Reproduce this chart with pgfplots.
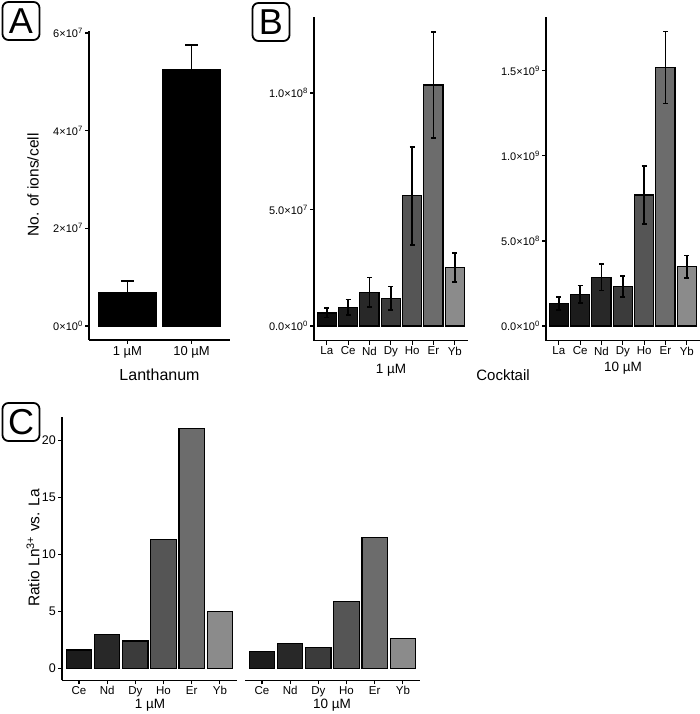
\documentclass[border=0pt]{standalone}
\usepackage{pgfplots}
\pgfplotsset{compat=1.18}
\usepackage{fontspec}
\setmainfont{Liberation Sans}
\definecolor{cLa}{HTML}{0F0F0F}
\definecolor{cCe}{HTML}{1C1C1C}
\definecolor{cNd}{HTML}{282828}
\definecolor{cDy}{HTML}{3B3B3B}
\definecolor{cHo}{HTML}{555555}
\definecolor{cEr}{HTML}{6C6C6C}
\definecolor{cYb}{HTML}{8B8B8B}
\newcommand{\fs}[1]{\fontsize{#1}{#1}\selectfont}
\pgfplotsset{
  gg/.style={scale only axis, anchor=south west,
    axis x line*=bottom, axis y line*=left,
    axis line style={line width=1.4pt, black},
    tick style={line width=1.2pt, black},
    major tick length=4pt, tick align=outside,
    scaled y ticks=false,
    xticklabel style={font=\fs{11.5}, inner sep=2pt},
    yticklabel style={font=\fs{11}, inner sep=2pt},
    clip=false},
}
% bar with error: colour, x, y, err
\newcommand{\gbar}[4]{\addplot[ybar, bar width=0.9, bar shift=0pt, fill=#1, draw=black, line width=1.2pt,
   error bars/.cd, y dir=both, y explicit,
   error bar style={line width=1.7pt, black},
   error mark options={rotate=90, line width=1.7pt, mark size=2.4pt, black}]
   coordinates {(#2,#3) +- (0,#4)};}
\newcommand{\cbar}[3]{\addplot[ybar, bar width=0.9, bar shift=0pt, fill=#1, draw=black, line width=1.2pt]
   coordinates {(#2,#3)};}
\begin{document}
\begin{tikzpicture}[x=1pt,y=1pt]
% ---------- Panel A ----------
\begin{axis}[gg, at={(89pt,374pt)}, width=141pt, height=309pt,
  xmin=0.4, xmax=2.6, ymin=-2.875e6, ymax=6.04e7,
  xtick={1,2}, xticklabels={1 µM,10 µM},
  xticklabel style={font=\fs{13}},
  ytick={0,2e7,4e7,6e7},
  yticklabels={0×10\textsuperscript{0},2×10\textsuperscript{7},4×10\textsuperscript{7},6×10\textsuperscript{7}}]
\addplot[ybar, bar width=0.9, bar shift=0pt, fill=black, draw=black, line width=0.5pt,
   error bars/.cd, y dir=both, y explicit,
   error bar style={line width=1.6pt, black},
   error mark options={rotate=90, line width=1.6pt, mark size=6.5pt, black}]
   coordinates {(1,7.0e6) +- (0,2.2e6)};
\addplot[ybar, bar width=0.9, bar shift=0pt, fill=black, draw=black, line width=0.5pt,
   error bars/.cd, y dir=both, y explicit,
   error bar style={line width=1.6pt, black},
   error mark options={rotate=90, line width=1.6pt, mark size=6.5pt, black}]
   coordinates {(2,5.26e7) +- (0,4.9e6)};
\end{axis}
\node[font=\fs{16}] at (159.5,339) {Lanthanum};
\node[font=\fs{15.5}, rotate=90] at (33,529) {No. of ions/cell};
% ---------- Panel B left ----------
\begin{axis}[gg, at={(314pt,373.3pt)}, width=153.6pt, height=323.7pt,
  xmin=-0.6, xmax=6.6, ymin=-6.3e6, ymax=1.326e8,
  xtick={0,...,6}, xticklabels={La,Ce,Nd,Dy,Ho,Er,Yb},
  ytick={0,5e7,1e8},
  yticklabels={0.0×10\textsuperscript{0},5.0×10\textsuperscript{7},1.0×10\textsuperscript{8}}]
\gbar{cLa}{0}{5.6e6}{2.0e6}
\gbar{cCe}{1}{8.0e6}{3.4e6}
\gbar{cNd}{2}{1.45e7}{6.3e6}
\gbar{cDy}{3}{1.19e7}{5.0e6}
\gbar{cHo}{4}{5.59e7}{2.1e7}
\gbar{cEr}{5}{1.034e8}{2.28e7}
\gbar{cYb}{6}{2.50e7}{6.2e6}
\end{axis}
\node[font=\fs{13.5}] at (391,344) {1 µM};
% ---------- Panel B right ----------
\begin{axis}[gg, at={(546pt,373.3pt)}, width=153.6pt, height=323.7pt,
  xmin=-0.6, xmax=6.6, ymin=-8.65e7, ymax=1.8165e9,
  xtick={0,...,6}, xticklabels={La,Ce,Nd,Dy,Ho,Er,Yb},
  ytick={0,5e8,1e9,1.5e9},
  yticklabels={0.0×10\textsuperscript{0},5.0×10\textsuperscript{8},1.0×10\textsuperscript{9},1.5×10\textsuperscript{9}}]
\gbar{cLa}{0}{1.33e8}{3.9e7}
\gbar{cCe}{1}{1.86e8}{5.2e7}
\gbar{cNd}{2}{2.86e8}{7.8e7}
\gbar{cDy}{3}{2.31e8}{6.1e7}
\gbar{cHo}{4}{7.70e8}{1.72e8}
\gbar{cEr}{5}{1.52e9}{2.12e8}
\gbar{cYb}{6}{3.49e8}{6.6e7}
\end{axis}
\node[font=\fs{13.5}] at (623,346) {10 µM};
\node[font=\fs{15}] at (503,339) {Cocktail};
% ---------- Panel C left ----------
\begin{axis}[gg, at={(62pt,33.7pt)}, width=174.8pt, height=263.4pt,
  xmin=-0.6, xmax=5.6, ymin=-1.05, ymax=22.05,
  xtick={0,...,5}, xticklabels={Ce,Nd,Dy,Ho,Er,Yb},
  ytick={0,5,10,15,20}, yticklabels={0,5,10,15,20},
  yticklabel style={font=\fs{12.5}}]
\cbar{cCe}{0}{1.6}
\cbar{cNd}{1}{2.95}
\cbar{cDy}{2}{2.4}
\cbar{cHo}{3}{11.3}
\cbar{cEr}{4}{21.0}
\cbar{cYb}{5}{5.0}
\end{axis}
% ---------- Panel C right ----------
\begin{axis}[gg, at={(245pt,33.7pt)}, width=174.8pt, height=263.4pt,
  xmin=-0.6, xmax=5.6, ymin=-1.05, ymax=22.05,
  axis y line=none,
  xtick={0,...,5}, xticklabels={Ce,Nd,Dy,Ho,Er,Yb}]
\cbar{cCe}{0}{1.45}
\cbar{cNd}{1}{2.2}
\cbar{cDy}{2}{1.8}
\cbar{cHo}{3}{5.85}
\cbar{cEr}{4}{11.5}
\cbar{cYb}{5}{2.65}
\end{axis}
\node[font=\fs{13.5}] at (150,9) {1 µM};
\node[font=\fs{13.5}] at (332,9) {10 µM};
\node[font=\fs{15.5}, rotate=90] at (33,166) {Ratio Ln\textsuperscript{3+} vs. La};
% ---------- Panel letters ----------
\tikzset{plab/.style={draw, rounded corners=6pt, line width=1.8pt, minimum width=37pt, minimum height=38pt, inner sep=0pt, font=\fs{36}}}
\node[plab] at (21,693) {A};
\node[plab] at (271,692) {B};
\node[plab] at (21,292) {C};
\pgfresetboundingbox
\path (0,0) rectangle (700,714);
\end{tikzpicture}
\end{document}
